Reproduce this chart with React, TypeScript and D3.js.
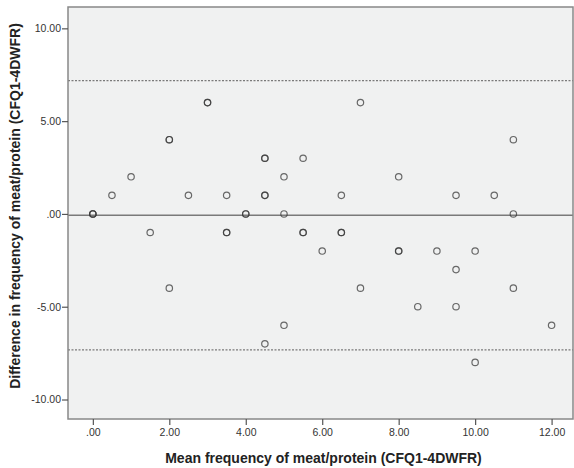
import React, { useEffect, useRef } from 'react';
import * as d3 from 'd3';

// mean frequency (x) and difference (y) per child; repeated rows are overlapping cases
const meanFreq = [0, 0, 0, 0.5, 1, 1.5, 2, 2, 2, 2.5, 3, 3, 3.5, 3.5, 3.5, 4, 4, 4.5, 4.5, 4.5, 4.5, 4.5,
  5, 5, 5, 5.5, 5.5, 5.5, 6, 6.5, 6.5, 6.5, 7, 7, 8, 8, 8, 8.5, 9, 9.5, 9.5, 9.5, 10, 10, 10.5, 11, 11, 11, 12];
const diffFreq = [0, 0, 0, 1, 2, -1, 4, 4, -4, 1, 6, 6, 1, -1, -1, 0, 0, 3, 3, 1, 1, -7,
  2, 0, -6, 3, -1, -1, -2, 1, -1, -1, 6, -4, 2, -2, -2, -5, -2, 1, -3, -5, -2, -8, 1, 4, 0, -4, -6];

const xTicks = [0, 2, 4, 6, 8, 10, 12];
const yTicks = [-10, -5, 0, 5, 10];
const meanDiff = -0.07;
const upperLoA = 7.18;
const lowerLoA = -7.33;

const fmt = (v: number) => {
  const s = v.toFixed(2);
  return s.replace(/^(-?)0\./, '$1.');
};

const App = () => {
  const svgRef = useRef<SVGSVGElement>(null);

  useEffect(() => {
    const width = 574;
    const height = 468;
    const margin = { top: 7, right: 1, bottom: 49, left: 68 };
    const innerW = width - margin.left - margin.right;
    const innerH = height - margin.top - margin.bottom;

    const svg = d3.select(svgRef.current);
    svg.selectAll('*').remove();
    svg.attr('width', width).attr('height', height);

    const g = svg.append('g').attr('transform', `translate(${margin.left},${margin.top})`);

    const x = d3.scaleLinear().domain([-0.65, 12.56]).range([0, innerW]);
    const y = d3.scaleLinear().domain([-11.05, 11.15]).range([innerH, 0]);

    // plot background
    g.append('rect')
      .attr('width', innerW)
      .attr('height', innerH)
      .attr('fill', '#f0f1f1');

    // limits of agreement
    [upperLoA, lowerLoA].forEach(v => {
      g.append('line')
        .attr('x1', 0).attr('x2', innerW)
        .attr('y1', y(v)).attr('y2', y(v))
        .attr('stroke', '#7a7a7a')
        .attr('stroke-width', 1.3)
        .attr('stroke-dasharray', '2,1.5');
    });

    // mean difference
    g.append('line')
      .attr('x1', 0).attr('x2', innerW)
      .attr('y1', y(meanDiff)).attr('y2', y(meanDiff))
      .attr('stroke', '#7a7a7a')
      .attr('stroke-width', 1.6);

    // points
    g.selectAll('.pt')
      .data(meanFreq.map((m, i) => ({ m, d: diffFreq[i] })))
      .enter()
      .append('circle')
      .attr('class', 'pt')
      .attr('cx', p => x(p.m))
      .attr('cy', p => y(p.d))
      .attr('r', 3.2)
      .attr('fill', 'none')
      .attr('stroke', '#3a3a3a')
      .attr('stroke-opacity', 0.75)
      .attr('stroke-width', 1.2);

    // frame
    g.append('rect')
      .attr('width', innerW)
      .attr('height', innerH)
      .attr('fill', 'none')
      .attr('stroke', '#888')
      .attr('stroke-width', 1.5);

    // axes
    const xAxis = g.append('g')
      .attr('transform', `translate(0,${innerH})`)
      .call(d3.axisBottom(x).tickValues(xTicks).tickFormat(d => fmt(+d)).tickSize(6).tickPadding(4));
    const yAxis = g.append('g')
      .call(d3.axisLeft(y).tickValues(yTicks).tickFormat(d => fmt(+d)).tickSize(6).tickPadding(1));

    [xAxis, yAxis].forEach(a => {
      a.select('.domain').remove();
      a.selectAll('.tick line').attr('stroke', '#555').attr('stroke-width', 1.2);
      a.selectAll('.tick text')
        .attr('fill', '#333')
        .style('font-family', '"Liberation Sans", Arial, sans-serif')
        .style('font-size', '10.5px');
    });

    // titles
    svg.append('text')
      .attr('x', margin.left + innerW / 2 + 3)
      .attr('y', 463)
      .attr('text-anchor', 'middle')
      .attr('fill', '#222')
      .style('font-family', '"Liberation Sans", Arial, sans-serif')
      .style('font-size', '14px')
      .style('font-weight', 'bold')
      .text('Mean frequency of meat/protein (CFQ1-4DWFR)');

    svg.append('text')
      .attr('transform', `translate(20,${margin.top + innerH / 2 - 7}) rotate(-90)`)
      .attr('text-anchor', 'middle')
      .attr('fill', '#222')
      .style('font-family', '"Liberation Sans", Arial, sans-serif')
      .style('font-size', '14px')
      .style('font-weight', 'bold')
      .text('Difference in frequency of meat/protein (CFQ1-4DWFR)');
  }, []);

  return (
    <div style={{ position: 'absolute', left: 0, top: 0 }}>
      <svg ref={svgRef}></svg>
    </div>
  );
};

export default App;
